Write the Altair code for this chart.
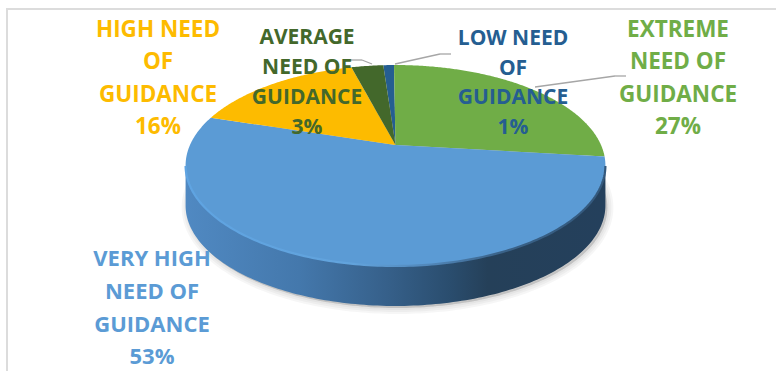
import numpy as np
import pandas as pd
import altair as alt

# Slices in clockwise order, beginning with the thin slice left of twelve o'clock
names = ["LOW NEED OF GUIDANCE", "EXTREME NEED OF GUIDANCE", "VERY HIGH NEED OF GUIDANCE",
         "HIGH NEED OF GUIDANCE", "AVERAGE NEED OF GUIDANCE"]
shares = [1, 27, 53, 16, 3]
colors = ["#255e91", "#70ad47", "#5b9bd5", "#fdbb00", "#43682b"]
label_lines = [["LOW NEED", "OF", "GUIDANCE"], ["EXTREME", "NEED OF", "GUIDANCE"],
               ["VERY HIGH", "NEED OF", "GUIDANCE"], ["HIGH NEED", "OF", "GUIDANCE"],
               ["AVERAGE", "NEED OF", "GUIDANCE"]]

# Drawing geometry of the tilted disc, in pixels
APEX_X, APEX_Y = 395.5, 145.0
RADIUS_X, RADIUS_Y = 205.5, 96.3
TILT = 0.204
DEPTH = 40.0
START_DEG = -4.1

# Label placement: centre x, first line centre y, line spacing, font size
label_x = [513, 678, 152, 158, 307]
label_y = [39, 30, 259, 30, 38]
label_gap = [29.7, 32.3, 32.8, 32.3, 30]
label_size = [21, 22.5, 22, 22.5, 21]


def project(deg):
    """Map a clockwise angle from twelve o'clock onto the tilted disc."""
    t = np.radians(np.asarray(deg, dtype=float))
    u, v = np.sin(t), -np.cos(t)
    w = 1 - TILT * v
    return APEX_X + RADIUS_X * u / w, APEX_Y + RADIUS_Y * v / w


def ring(pts):
    return [[float(x), float(y)] for x, y in pts]


def feature(kind, coords, name=""):
    return {"type": "Feature", "properties": {"name": name},
            "geometry": {"type": kind, "coordinates": coords}}


# One polygon per slice, swept from the shares
edges = START_DEG + np.cumsum([0] + shares) * 3.6
slices = []
for name, a, b in zip(names, edges[:-1], edges[1:]):
    xs, ys = project(np.linspace(a, b, max(int(b - a) * 2, 6)))
    pts = [(APEX_X, APEX_Y)] + list(zip(xs, ys)) + [(APEX_X, APEX_Y)]
    slices.append(feature("Polygon", [ring(pts)], name))

# Front wall: the lower outline of the disc and the same outline moved down
deg = np.arange(0, 360, 1.0)
rim_x, rim_y = project(deg)
right = int(np.argmax(rim_x))
left = int(np.argmin(rim_x))
front_x, front_y = rim_x[right:left + 1], rim_y[right:left + 1]
wall = list(zip(front_x, front_y)) + list(zip(front_x[::-1], front_y[::-1] + DEPTH))
wall.append(wall[0])
wall_feature = feature("Polygon", [ring(wall)])
rim_feature = feature("LineString", ring(zip(front_x, front_y)))
foot = list(zip(rim_x + 2, rim_y + DEPTH + 2))
foot.append(foot[0])
foot_feature = feature("Polygon", [ring(foot)])

geo = dict(type="identity", scale=1, translate=[0, 0])


def stops(pairs):
    return [alt.GradientStop(color=c, offset=o) for o, c in pairs]


def horizontal(pairs):
    return alt.Gradient(gradient="linear", x1=0, x2=1, y1=0, y2=0, stops=stops(pairs))


def shape_layer(feat, **mark):
    return alt.Chart(alt.Data(values=[feat])).mark_geoshape(**mark).project(**geo)


# Soft shadow built from stacked translucent outlines
shadow = [shape_layer(foot_feature, fill="#000000", fillOpacity=0.05, stroke="#000000",
                      strokeOpacity=0.035, strokeWidth=w) for w in (12, 8, 4)]

side = shape_layer(wall_feature, fill=horizontal([
    (0, "#5089c2"), (0.27, "#4478ac"), (0.48, "#36608a"),
    (0.63, "#2a4d6e"), (0.72, "#254059"), (1, "#24405c")]))

top = (
    alt.Chart(alt.Data(values=slices))
    .mark_geoshape()
    .encode(
        color=alt.Color("properties.name:N", legend=None,
                        scale=alt.Scale(domain=names, range=colors))
    )
    .project(**geo)
)

# Bevel between the top face and the wall
bevel = shape_layer(rim_feature, filled=False, strokeWidth=2.2, stroke=horizontal([
    (0, "#5fa4e2"), (0.4, "#62a3dc"), (0.58, "#5187ba"),
    (0.75, "#3a6288"), (1, "#33587c")]))

# Leader lines from the labels to their slices
leader_segments = [
    (347, 60, 362, 60), (362, 60, 372, 64),
    (451, 54, 440, 54), (440, 54, 395, 64),
    (626, 76, 615, 76), (615, 76, 535, 87),
]
leaders = [
    alt.Chart(pd.DataFrame({"k": [0]})).mark_rule(color="#a6a6a6", strokeWidth=1.3).encode(
        x=alt.value(a), x2=alt.value(c), y=alt.value(b), y2=alt.value(d))
    for a, b, c, d in leader_segments
]

# Chart frame on the left and top
frame = [
    alt.Chart(pd.DataFrame({"k": [0]})).mark_rule(color="#dcdcdc", strokeWidth=2).encode(
        x=alt.value(7), x2=alt.value(776), y=alt.value(9)),
    alt.Chart(pd.DataFrame({"k": [0]})).mark_rule(color="#dcdcdc", strokeWidth=2).encode(
        x=alt.value(7), y=alt.value(8), y2=alt.value(371)),
]

rows = []
for lines, share, color, x, y, gap, size in zip(label_lines, shares, colors, label_x, label_y,
                                                label_gap, label_size):
    for i, line in enumerate(lines + [f"{share}%"]):
        rows.append({"text": line, "x": x, "y": y + i * gap, "color": color, "size": size})
labels = (
    alt.Chart(pd.DataFrame(rows))
    .mark_text(font="Open Sans", fontWeight=700, align="center", baseline="middle")
    .encode(
        x=alt.X("x:Q", scale=None, axis=None),
        y=alt.Y("y:Q", scale=None, axis=None),
        text="text:N",
        color=alt.Color("color:N", scale=None, legend=None),
        size=alt.Size("size:Q", scale=None, legend=None),
    )
)

chart = (
    alt.layer(*frame, *shadow, side, top, bevel, *leaders, labels)
    .properties(width=776, height=371, padding=0, background="white",
                autosize=alt.AutoSizeParams(type="none"))
    .configure_view(stroke=None)
)

chart.save("out.html", embed_options={"renderer": "svg", "actions": False})
